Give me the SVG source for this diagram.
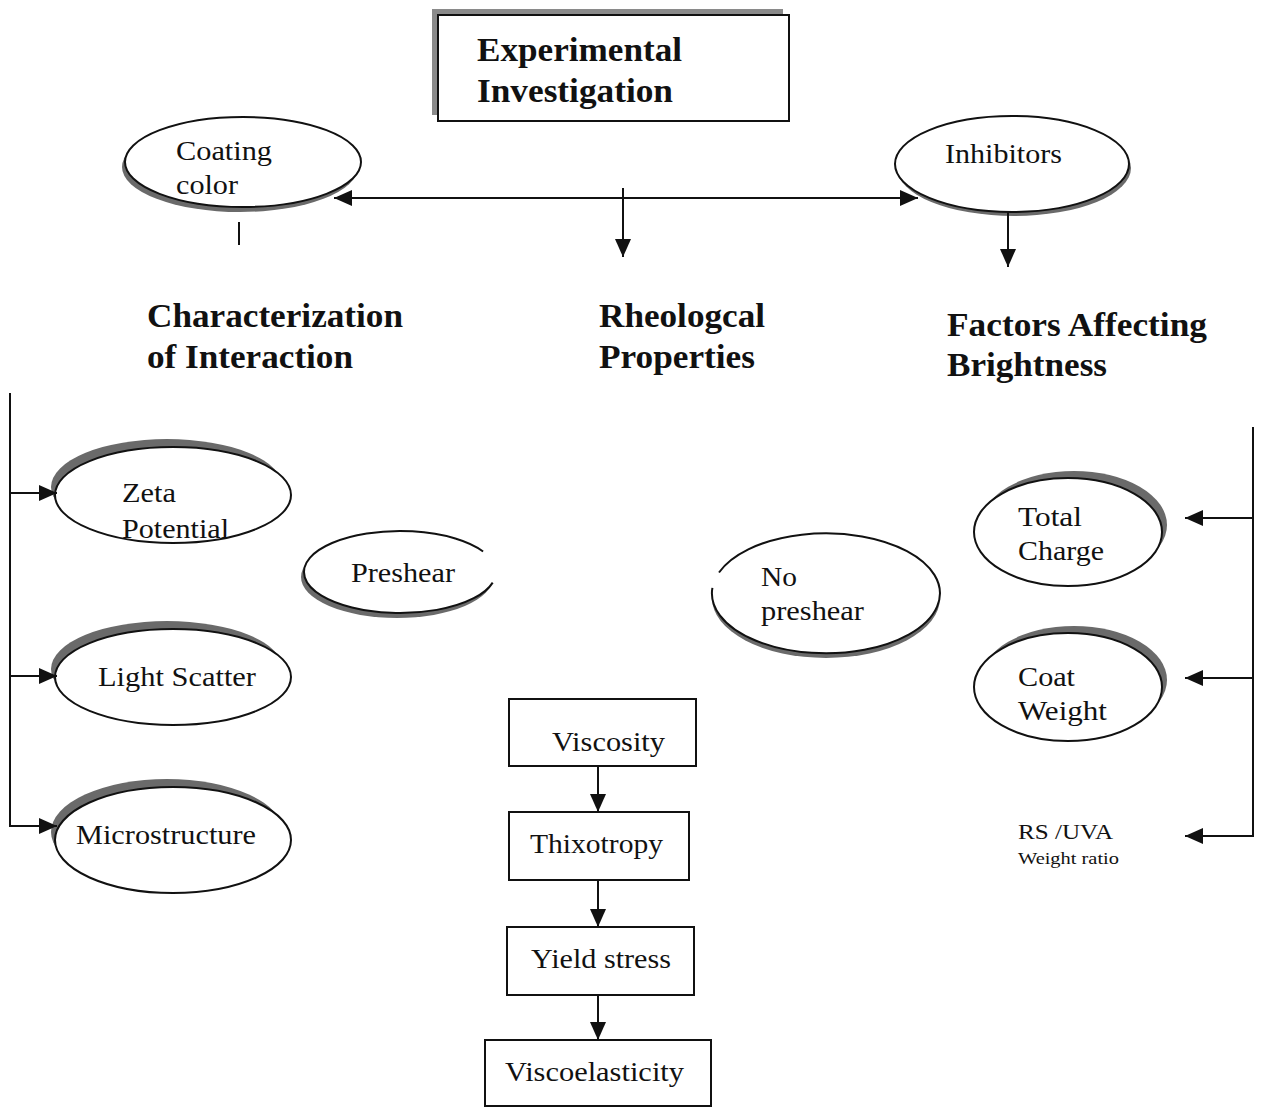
<svg xmlns="http://www.w3.org/2000/svg" width="1266" height="1108" viewBox="0 0 1266 1108">
<style>
.t{font-family:"Liberation Serif","Times New Roman",serif;font-size:28px;fill:#111}
.h{font-family:"Liberation Serif","Times New Roman",serif;font-size:33px;font-weight:bold;fill:#111}
.s{font-family:"Liberation Serif","Times New Roman",serif;fill:#111}
.node{fill:#fff;stroke:#111;stroke-width:2}
.fillonly{fill:#fff;stroke:none}
.line{fill:none;stroke:#111;stroke-width:2}
.sh{fill:#6a6a6a}
.arr{fill:none;stroke:#111;stroke-width:2;marker-end:url(#ah)}
</style>
<defs>
<marker id="ah" markerWidth="18" markerHeight="16" refX="18" refY="8" orient="auto" markerUnits="userSpaceOnUse">
<path d="M0,0 L18,8 L0,16 Z" fill="#111"/>
</marker>
<marker id="ahs" markerWidth="18" markerHeight="16" refX="18" refY="8" orient="auto-start-reverse" markerUnits="userSpaceOnUse">
<path d="M0,0 L18,8 L0,16 Z" fill="#111"/>
</marker>
</defs>
<rect width="1266" height="1108" fill="#fff"/>

<g id="experimental-investigation">
<rect x="432" y="9" width="351" height="106" fill="#8a8a8a"/>
<rect class="node" x="438" y="15" width="351" height="106"/>
<text class="h" x="477" y="61" textLength="205" lengthAdjust="spacingAndGlyphs">Experimental</text>
<text class="h" x="477" y="102" textLength="196" lengthAdjust="spacingAndGlyphs">Investigation</text>
</g>

<g id="coating-color">
<ellipse class="sh" cx="240" cy="167" rx="118" ry="45"/>
<ellipse class="node" cx="243" cy="162" rx="118" ry="45"/>
<text class="t" x="176" y="160" textLength="96" lengthAdjust="spacingAndGlyphs">Coating</text>
<text class="t" x="176" y="194" textLength="62" lengthAdjust="spacingAndGlyphs">color</text>
</g>

<g id="inhibitors">
<ellipse class="sh" cx="1014" cy="168" rx="117" ry="48"/>
<ellipse class="node" cx="1012" cy="164" rx="117" ry="48"/>
<text class="t" x="945" y="163" textLength="117" lengthAdjust="spacingAndGlyphs">Inhibitors</text>
</g>

<g id="characterization">
<text class="h" x="147" y="327" textLength="256" lengthAdjust="spacingAndGlyphs">Characterization</text>
<text class="h" x="147" y="368" textLength="206" lengthAdjust="spacingAndGlyphs">of Interaction</text>
</g>

<g id="rheological">
<text class="h" x="599" y="327" textLength="166" lengthAdjust="spacingAndGlyphs">Rheologcal</text>
<text class="h" x="599" y="368" textLength="156" lengthAdjust="spacingAndGlyphs">Properties</text>
</g>

<g id="factors">
<text class="h" x="947" y="336" textLength="260" lengthAdjust="spacingAndGlyphs">Factors Affecting</text>
<text class="h" x="947" y="376" textLength="160" lengthAdjust="spacingAndGlyphs">Brightness</text>
</g>

<g id="zeta-potential">
<ellipse class="sh" cx="167" cy="487" rx="116" ry="48"/>
<ellipse class="node" cx="173" cy="495" rx="118" ry="48"/>
<text class="t" x="122" y="502" textLength="54" lengthAdjust="spacingAndGlyphs">Zeta</text>
<text class="t" x="122" y="538" textLength="107" lengthAdjust="spacingAndGlyphs">Potential</text>
</g>

<g id="light-scatter">
<ellipse class="sh" cx="167" cy="669" rx="116" ry="48"/>
<ellipse class="node" cx="173" cy="677" rx="118" ry="48"/>
<text class="t" x="98" y="686" textLength="158" lengthAdjust="spacingAndGlyphs">Light Scatter</text>
</g>

<g id="microstructure">
<ellipse class="sh" cx="167" cy="832" rx="116" ry="53"/>
<ellipse class="node" cx="173" cy="840" rx="118" ry="53"/>
<text class="t" x="76" y="844" textLength="180" lengthAdjust="spacingAndGlyphs">Microstructure</text>
</g>

<g id="preshear">
<ellipse class="sh" cx="397" cy="577" rx="96" ry="41"/>
<ellipse class="fillonly" cx="400" cy="572" rx="96" ry="41"/>
<path class="line" d="M483.1,551.5 A96,41 0 1 0 492.7,582.6"/>
<text class="t" x="351" y="582" textLength="104" lengthAdjust="spacingAndGlyphs">Preshear</text>
</g>

<g id="no-preshear">
<ellipse class="sh" cx="826" cy="598" rx="114" ry="60"/>
<ellipse class="fillonly" cx="826" cy="593" rx="114" ry="60"/>
<path class="line" d="M719,572.5 A114,60 0 1 1 712.4,587.8"/>
<text class="t" x="761" y="586" textLength="36" lengthAdjust="spacingAndGlyphs">No</text>
<text class="t" x="761" y="620" textLength="103" lengthAdjust="spacingAndGlyphs">preshear</text>
</g>

<g id="total-charge">
<ellipse class="sh" cx="1074" cy="525" rx="93" ry="54"/>
<ellipse class="node" cx="1068" cy="532" rx="94" ry="54"/>
<text class="t" x="1018" y="526" textLength="64" lengthAdjust="spacingAndGlyphs">Total</text>
<text class="t" x="1018" y="560" textLength="86" lengthAdjust="spacingAndGlyphs">Charge</text>
</g>

<g id="coat-weight">
<ellipse class="sh" cx="1074" cy="680" rx="93" ry="54"/>
<ellipse class="node" cx="1068" cy="687" rx="94" ry="54"/>
<text class="t" x="1018" y="686" textLength="57" lengthAdjust="spacingAndGlyphs">Coat</text>
<text class="t" x="1018" y="720" textLength="89" lengthAdjust="spacingAndGlyphs">Weight</text>
</g>

<g id="rs-uva">
<text class="s" x="1018" y="839" font-size="21" textLength="95" lengthAdjust="spacingAndGlyphs">RS /UVA</text>
<text class="s" x="1018" y="864" font-size="17" textLength="101" lengthAdjust="spacingAndGlyphs">Weight ratio</text>
</g>

<g id="viscosity">
<rect class="node" x="509" y="699" width="187" height="67"/>
<text class="t" x="552" y="751" textLength="113" lengthAdjust="spacingAndGlyphs">Viscosity</text>
</g>
<g id="thixotropy">
<rect class="node" x="509" y="812" width="180" height="68"/>
<text class="t" x="530" y="853" textLength="133" lengthAdjust="spacingAndGlyphs">Thixotropy</text>
</g>
<g id="yield-stress">
<rect class="node" x="507" y="927" width="187" height="68"/>
<text class="t" x="531" y="968" textLength="140" lengthAdjust="spacingAndGlyphs">Yield stress</text>
</g>
<g id="viscoelasticity">
<rect class="node" x="485" y="1040" width="226" height="66"/>
<text class="t" x="505" y="1081" textLength="179" lengthAdjust="spacingAndGlyphs">Viscoelasticity</text>
</g>

<g id="connectors">
<line class="line" x1="334" y1="198" x2="918" y2="198" marker-start="url(#ahs)" marker-end="url(#ah)"/>
<line class="arr" x1="623" y1="188" x2="623" y2="257"/>
<line class="line" x1="239" y1="222" x2="239" y2="245"/>
<line class="arr" x1="1008" y1="212" x2="1008" y2="267"/>
<line class="line" x1="10" y1="393" x2="10" y2="827"/>
<line class="arr" x1="10" y1="493" x2="57" y2="493"/>
<line class="arr" x1="10" y1="676" x2="57" y2="676"/>
<line class="arr" x1="10" y1="826" x2="57" y2="826"/>
<line class="line" x1="1253" y1="427" x2="1253" y2="837"/>
<line class="arr" x1="1253" y1="518" x2="1185" y2="518"/>
<line class="arr" x1="1253" y1="678" x2="1185" y2="678"/>
<line class="arr" x1="1253" y1="836" x2="1185" y2="836"/>
<line class="arr" x1="598" y1="766" x2="598" y2="812"/>
<line class="arr" x1="598" y1="880" x2="598" y2="927"/>
<line class="arr" x1="598" y1="995" x2="598" y2="1040"/>
</g>
</svg>
